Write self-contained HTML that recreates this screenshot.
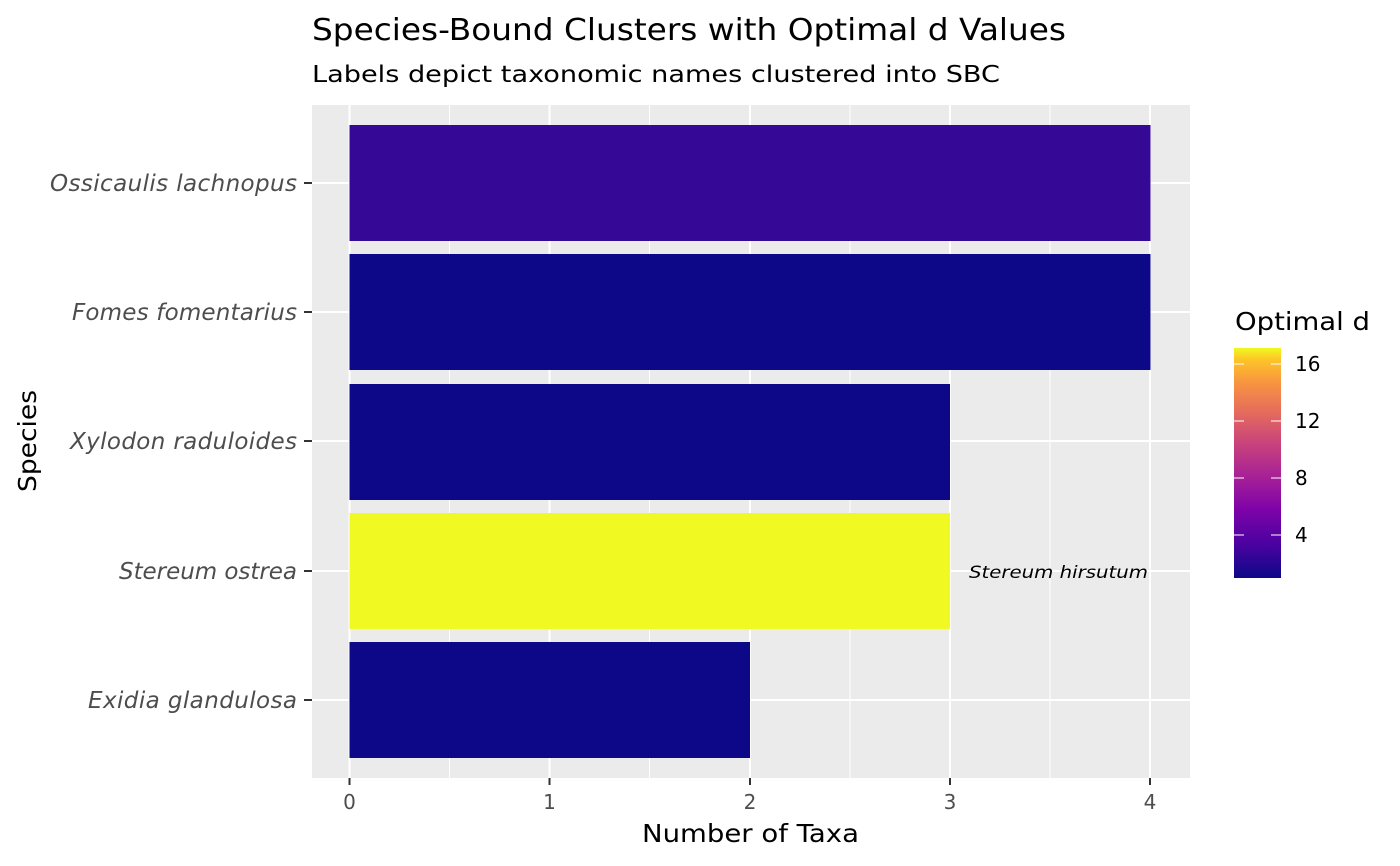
<!DOCTYPE html>
<html><head><meta charset="utf-8"><style>body{margin:0;background:#fff}svg{display:block}text{font-family:"DejaVu Sans","Liberation Sans",sans-serif}</style></head><body>
<svg width="1400" height="866" viewBox="0 0 1400 866">
<defs><linearGradient id="g" x1="0" y1="1" x2="0" y2="0">
<stop offset="0" stop-color="#0d0887"/><stop offset="0.15" stop-color="#4c02a1"/><stop offset="0.3" stop-color="#7e03a8"/><stop offset="0.45" stop-color="#a92395"/><stop offset="0.6" stop-color="#cc4778"/><stop offset="0.72" stop-color="#e56b5d"/><stop offset="0.85" stop-color="#f89540"/><stop offset="0.95" stop-color="#fdc527"/><stop offset="1" stop-color="#f0f921"/></linearGradient></defs>
<rect x="312" y="105" width="878" height="673" fill="#ebebeb"/>
<g stroke="#fff" stroke-width="1"><line x1="449.5" y1="105" x2="449.5" y2="778"/><line x1="649.5" y1="105" x2="649.5" y2="778"/><line x1="850" y1="105" x2="850" y2="778"/><line x1="1050" y1="105" x2="1050" y2="778"/></g>
<g stroke="#fff" stroke-width="2"><line x1="349.5" y1="105" x2="349.5" y2="778"/><line x1="549.5" y1="105" x2="549.5" y2="778"/><line x1="750" y1="105" x2="750" y2="778"/><line x1="950" y1="105" x2="950" y2="778"/><line x1="1150" y1="105" x2="1150" y2="778"/>
<line x1="312" y1="183" x2="1190" y2="183"/><line x1="312" y1="312" x2="1190" y2="312"/><line x1="312" y1="441" x2="1190" y2="441"/><line x1="312" y1="571" x2="1190" y2="571"/><line x1="312" y1="700" x2="1190" y2="700"/></g>
<rect x="349.5" y="125" width="801" height="116" fill="#350996"/>
<rect x="349.5" y="254" width="801" height="116" fill="#0d0887"/>
<rect x="349.5" y="384" width="600.5" height="116" fill="#0d0887"/>
<rect x="349.5" y="513" width="600.5" height="116" fill="#f0f921"/>
<rect x="349.5" y="642" width="400.5" height="116" fill="#0d0887"/>
<text x="1148" y="578" font-size="17" font-style="italic" text-anchor="end" fill="#000" textLength="179" lengthAdjust="spacingAndGlyphs">Stereum hirsutum</text>
<g stroke="#333" stroke-width="2"><line x1="304" y1="183" x2="312" y2="183"/><line x1="304" y1="312" x2="312" y2="312"/><line x1="304" y1="441" x2="312" y2="441"/><line x1="304" y1="571" x2="312" y2="571"/><line x1="304" y1="700" x2="312" y2="700"/>
<line x1="349.5" y1="778" x2="349.5" y2="785"/><line x1="549.5" y1="778" x2="549.5" y2="785"/><line x1="750" y1="778" x2="750" y2="785"/><line x1="950" y1="778" x2="950" y2="785"/><line x1="1150" y1="778" x2="1150" y2="785"/></g>
<g font-size="23" font-style="italic" fill="#4d4d4d" lengthAdjust="spacingAndGlyphs"><text x="50" y="191" textLength="247">Ossicaulis lachnopus</text><text x="72" y="320" textLength="225">Fomes fomentarius</text><text x="70" y="449" textLength="227">Xylodon raduloides</text><text x="119" y="579" textLength="178">Stereum ostrea</text><text x="88" y="708" textLength="209">Exidia glandulosa</text></g>
<g font-size="20" fill="#4d4d4d" text-anchor="middle"><text x="349.5" y="809">0</text><text x="549.5" y="809">1</text><text x="750" y="809">2</text><text x="950" y="809">3</text><text x="1150" y="809">4</text></g>
<text x="642" y="842" font-size="25" textLength="217" lengthAdjust="spacingAndGlyphs">Number of Taxa</text>
<text transform="translate(36,492) rotate(-90)" font-size="25" textLength="102" lengthAdjust="spacingAndGlyphs">Species</text>
<text x="312" y="40" font-size="30" textLength="754" lengthAdjust="spacingAndGlyphs">Species-Bound Clusters with Optimal d Values</text>
<text x="312" y="82" font-size="23" textLength="688" lengthAdjust="spacingAndGlyphs">Labels depict taxonomic names clustered into SBC</text>
<text x="1235" y="330" font-size="25" textLength="135" lengthAdjust="spacingAndGlyphs">Optimal d</text>
<rect x="1234" y="348" width="47" height="230" fill="url(#g)"/>
<g stroke="#fff" stroke-width="1"><line x1="1234" y1="364" x2="1244" y2="364"/><line x1="1271" y1="364" x2="1281" y2="364"/><line x1="1234" y1="421" x2="1244" y2="421"/><line x1="1271" y1="421" x2="1281" y2="421"/><line x1="1234" y1="478" x2="1244" y2="478"/><line x1="1271" y1="478" x2="1281" y2="478"/><line x1="1234" y1="535" x2="1244" y2="535"/><line x1="1271" y1="535" x2="1281" y2="535"/></g>
<g font-size="20" fill="#000"><text x="1295" y="371">16</text><text x="1295" y="428">12</text><text x="1295" y="485">8</text><text x="1295" y="542">4</text></g>
</svg></body></html>
